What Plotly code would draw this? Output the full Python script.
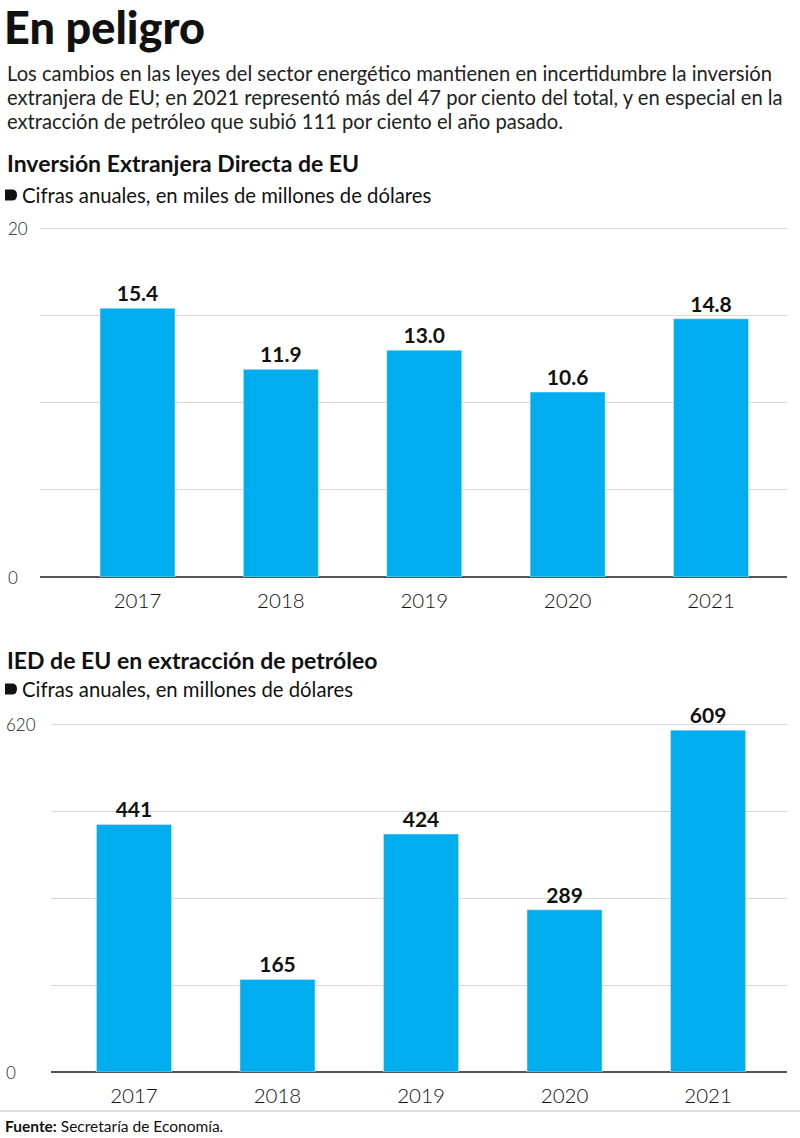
import plotly.graph_objects as go

# ---- data ----
years = ["2017", "2018", "2019", "2020", "2021"]
ied_total = [15.4, 11.9, 13.0, 10.6, 14.8]          # miles de millones de dólares
ied_petroleo = [441, 165, 424, 289, 609]             # millones de dólares
top_ticks = [0, 5, 10, 15, 20]
top_labels = ["0", "", "", "", "20"]
bot_ticks = [0, 155, 310, 465, 620]
bot_labels = ["0", "", "", "", "620"]

W, H = 800, 1138
FONT = "Lato"
BLUE = "#00AEEF"
GRID = "#d9d9d9"
ZERO = "#555555"


def py(px):
    return 1 - px / H


def pxx(px):
    return px / W


fig = go.Figure()

fig.add_trace(go.Bar(
    x=years, y=ied_total, xaxis="x", yaxis="y", marker_color=BLUE,
    texttemplate="%{y:.1f}", textposition="outside", cliponaxis=False,
    textfont=dict(family=FONT, size=21, color="#111", weight="bold"),
    hoverinfo="skip", showlegend=False,
))
fig.add_trace(go.Bar(
    x=years, y=ied_petroleo, xaxis="x2", yaxis="y2", marker_color=BLUE,
    texttemplate="%{y:.0f}", textposition="outside", cliponaxis=False,
    textfont=dict(family=FONT, size=21, color="#111", weight="bold"),
    hoverinfo="skip", showlegend=False,
))

xcommon = dict(type="category", showgrid=False, showline=False, ticks="",
               tickfont=dict(family=FONT, size=20.5, color="#111", weight=300),
               ticklabelstandoff=9, fixedrange=True)
ycommon = dict(showline=False, ticks="", showticklabels=False, gridcolor=GRID,
               gridwidth=1, zeroline=True, zerolinecolor=ZERO, zerolinewidth=1.5,
               fixedrange=True)

annotations = []
# y tick labels, left aligned
for v, t in zip(top_ticks, top_labels):
    if t:
        annotations.append(dict(x=pxx(6), xref="paper", y=v, yref="y", text=t,
                                showarrow=False, xanchor="left", yanchor="middle",
                                font=dict(family=FONT, size=17, color="#222", weight=300)))
for v, t in zip(bot_ticks, bot_labels):
    if t:
        annotations.append(dict(x=pxx(4), xref="paper", y=v, yref="y2", text=t,
                                showarrow=False, xanchor="left", yanchor="middle",
                                font=dict(family=FONT, size=17, color="#222", weight=300)))


def txt(text, x, y, size, weight="normal", color="#111", yanchor="middle"):
    annotations.append(dict(x=pxx(x), y=py(y), xref="paper", yref="paper", text=text,
                            showarrow=False, xanchor="left", yanchor=yanchor, align="left",
                            font=dict(family=FONT, size=size, color=color, weight=weight)))


txt("En peligro", 2, 27, 45, weight=900)
para = [
    "Los cambios en las leyes del sector energético mantienen en incertidumbre la inversión",
    "extranjera de EU; en 2021 representó más del 47 por ciento del total, y en especial en la",
    "extracción de petróleo que subió 111 por ciento el año pasado.",
]
for i, line in enumerate(para):
    txt(line, 5, 73 + 24 * i, 20.2, weight=400, color="#222")
txt("Inversión Extranjera Directa de EU", 5, 163, 23, weight="bold")
txt("Cifras anuales, en miles de millones de dólares", 20, 195, 20.3, weight=400, color="#111")
txt("IED de EU en extracción de petróleo", 5, 660, 23, weight="bold")
txt("Cifras anuales, en millones de dólares", 20, 689, 20.3, weight=400, color="#111")
txt("<b>Fuente:</b> Secretaría de Economía.", 3, 1126, 15.5, weight=400, color="#111")


def tag(x0, yc):
    # small rounded tag marker
    y0, y1 = py(yc - 5.5), py(yc + 5.5)
    x1 = pxx(x0 + 7)
    x2 = pxx(x0 + 12)
    xa = pxx(x0)
    ym = py(yc)
    return dict(type="path", xref="paper", yref="paper",
                path=f"M {xa},{y1} L {x1},{y1} Q {x2},{y1} {x2},{ym} Q {x2},{y0} {x1},{y0} L {xa},{y0} Z",
                fillcolor="#111", line=dict(width=0))


shapes = [
    tag(5, 195),
    tag(5, 689),
    dict(type="line", xref="paper", yref="paper", x0=0, x1=1, y0=py(1111), y1=py(1111),
         line=dict(color="#bbbbbb", width=1)),
]

fig.update_layout(
    width=W, height=H, margin=dict(l=0, r=0, t=0, b=0),
    paper_bgcolor="white", plot_bgcolor="white",
    bargap=0.477,
    xaxis=dict(**xcommon, domain=[pxx(40), pxx(787)], range=[-0.68, 4.53],
               anchor="y"),
    yaxis=dict(**ycommon, domain=[py(577), py(226.3)], range=[0, 20.1],
               tickvals=top_ticks, anchor="x"),
    xaxis2=dict(**xcommon, domain=[pxx(51), pxx(787)], range=[-0.578, 4.55],
                anchor="y2"),
    yaxis2=dict(**ycommon, domain=[py(1072), py(722.9)], range=[0, 622],
                tickvals=bot_ticks, anchor="x2"),
    annotations=annotations,
    shapes=shapes,
    font=dict(family=FONT),
)

fig.write_html("out.html", config={"displayModeBar": False},
               post_script="document.body.style.margin='0';document.body.style.padding='0';")
